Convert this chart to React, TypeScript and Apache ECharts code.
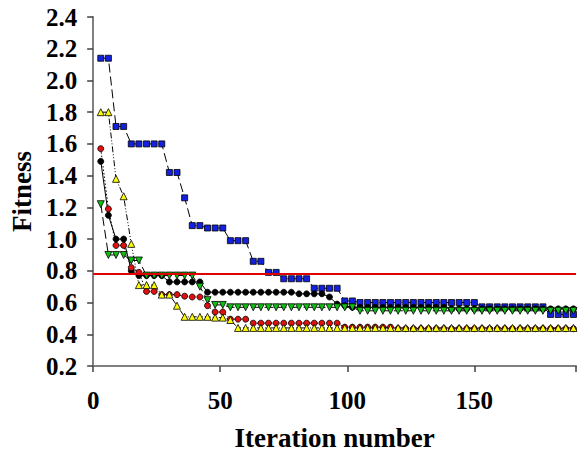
import React, { useEffect, useRef } from "react";
import * as echarts from "echarts";

const iterations: number[] = [];
for (let i = 3; i <= 189; i += 3) iterations.push(i);

const blueValues = [
  2.14, 2.14, 1.71, 1.71, 1.6, 1.6, 1.6, 1.6, 1.6, 1.42, 1.42, 1.26, 1.085, 1.085, 1.07, 1.07, 1.07,
  0.99, 0.99, 0.99, 0.86, 0.86, 0.79, 0.79, 0.75, 0.75, 0.75, 0.75, 0.69, 0.69, 0.69, 0.69, 0.61, 0.61,
  0.6, 0.6, 0.6, 0.6, 0.6, 0.6, 0.6, 0.6, 0.6, 0.6, 0.6, 0.6, 0.6, 0.6, 0.6, 0.6,
  0.573, 0.573, 0.573, 0.573, 0.573, 0.573, 0.573, 0.573, 0.573,
  0.525, 0.525, 0.525, 0.525,
];

const blackValues = [
  1.49, 1.15, 1.0, 1.0, 0.8, 0.77, 0.77, 0.77, 0.77, 0.73, 0.73, 0.73, 0.73, 0.73,
  0.665, 0.665, 0.665, 0.665, 0.665, 0.665, 0.665, 0.665, 0.665, 0.665, 0.665, 0.665,
  0.655, 0.655, 0.655, 0.655, 0.635, 0.59, 0.58,
  0.57, 0.57, 0.57, 0.57, 0.57, 0.57, 0.57, 0.57, 0.57, 0.57, 0.57, 0.57, 0.57,
  0.56, 0.56, 0.56, 0.56, 0.56, 0.56, 0.56, 0.56, 0.56, 0.56, 0.56, 0.56, 0.56, 0.56, 0.56, 0.56, 0.56,
];

const greenValues = [
  1.22, 0.9, 0.9, 0.9, 0.865, 0.865, 0.77, 0.77, 0.77, 0.77, 0.77, 0.77, 0.77,
  0.7, 0.615, 0.585, 0.585,
  0.57, 0.57, 0.57, 0.57, 0.57, 0.57, 0.57, 0.57, 0.57, 0.57, 0.57, 0.57, 0.57, 0.57, 0.57, 0.57, 0.57,
  0.548, 0.548, 0.548, 0.548, 0.548, 0.548, 0.548, 0.548, 0.548, 0.548, 0.548, 0.548, 0.548, 0.548,
  0.548, 0.548, 0.548, 0.548, 0.548, 0.548, 0.548, 0.548, 0.548, 0.548, 0.548, 0.548, 0.548, 0.548, 0.548,
];

const redValues = [
  1.57, 1.19, 0.96, 0.96, 0.82, 0.79, 0.67, 0.67, 0.65, 0.65, 0.65, 0.64, 0.635, 0.635,
  0.58, 0.54, 0.54, 0.495, 0.495, 0.495,
  0.47, 0.47, 0.47, 0.47, 0.47, 0.47, 0.47, 0.47, 0.47, 0.47, 0.47, 0.47,
  0.445, 0.445, 0.445, 0.445, 0.445, 0.445, 0.445,
  0.435, 0.435, 0.435, 0.435, 0.435, 0.435, 0.435, 0.435, 0.435, 0.435, 0.435, 0.435,
  0.435, 0.435, 0.435, 0.435, 0.435, 0.435, 0.435, 0.435, 0.435, 0.435, 0.435, 0.435,
];

const yellowValues = [
  1.8, 1.8, 1.38, 1.27, 0.97, 0.71, 0.71, 0.71, 0.65, 0.65, 0.58, 0.51, 0.51, 0.51, 0.51,
  0.505, 0.505, 0.49,
  0.44, 0.44, 0.44, 0.44, 0.44, 0.44, 0.44, 0.44, 0.44, 0.44, 0.44, 0.44, 0.44, 0.44, 0.44,
  0.44, 0.44, 0.44, 0.44, 0.44, 0.44, 0.44, 0.44, 0.44, 0.44, 0.44, 0.44, 0.44, 0.44, 0.44,
  0.44, 0.44, 0.44, 0.44, 0.44, 0.44, 0.44, 0.44, 0.44, 0.44, 0.44, 0.44, 0.44, 0.44, 0.44,
];

const thresholdValue = 0.78;
const xTicks = [0, 50, 100, 150];
const yMin = 0.2;
const yMax = 2.4;

const FONT = "Liberation Serif";

function pairs(vals: number[]) {
  return vals.map((v, k) => [iterations[k], v]);
}

export default function App() {
  const ref = useRef<HTMLDivElement>(null);
  useEffect(() => {
    if (!ref.current) return;
    const chart = echarts.init(ref.current, null, { renderer: "svg" });
    const mk = (
      name: string,
      vals: number[],
      symbol: string,
      size: number,
      fill: string,
      dash: any,
      rotate = 0
    ) => ({
      name,
      type: "line",
      data: pairs(vals),
      symbol,
      symbolSize: size,
      symbolRotate: rotate,
      showAllSymbol: true,
      lineStyle: { color: "#000", width: 1, type: dash },
      itemStyle: { color: fill, borderColor: "#000", borderWidth: 0.8 },
      emphasis: { disabled: true },
    });
    const labelStyle = {
      fontFamily: FONT,
      fontWeight: "bold",
      fontSize: 25,
      color: "#000",
    };
    chart.setOption({
      animation: false,
      textStyle: { fontFamily: FONT },
      grid: { left: 93, right: 0, top: 17, bottom: 87 },
      xAxis: {
        type: "value",
        min: 0,
        max: 190,
        interval: 50,
        name: "Iteration number",
        nameLocation: "middle",
        nameGap: 58,
        nameTextStyle: { fontFamily: FONT, fontWeight: "bold", fontSize: 27, color: "#000" },
        axisLine: { show: true, lineStyle: { color: "#808080", width: 2 } },
        axisTick: { show: true, length: 6, lineStyle: { color: "#404040", width: 1.5 } },
        splitLine: { show: false },
        axisLabel: {
          ...labelStyle,
          margin: 22,
          formatter: (v: number) => (xTicks.includes(v) ? String(v) : ""),
        },
      },
      yAxis: {
        type: "value",
        min: yMin,
        max: yMax,
        interval: 0.2,
        name: "Fitness",
        nameLocation: "middle",
        nameGap: 48,
        nameTextStyle: { fontFamily: FONT, fontWeight: "bold", fontSize: 27, color: "#000" },
        axisLine: { show: true, lineStyle: { color: "#808080", width: 2 } },
        axisTick: { show: true, length: 6, lineStyle: { color: "#404040", width: 1.5 } },
        splitLine: { show: false },
        axisLabel: {
          ...labelStyle,
          margin: 16,
          formatter: (v: number) => v.toFixed(1),
        },
      },
      series: [
        {
          ...mk("blue", blueValues, "rect", 6, "#1420e0", [9, 4]),
          markLine: {
            silent: true,
            symbol: "none",
            label: { show: false },
            lineStyle: { color: "#e00000", width: 2, type: "solid" },
            data: [{ yAxis: thresholdValue }],
          },
        },
        mk("black", blackValues, "circle", 6, "#000", "solid"),
        mk("green", greenValues, "triangle", 7, "#10c010", [9, 4], 180),
        mk("red", redValues, "circle", 6, "#e01010", [1.5, 2]),
        mk("yellow", yellowValues, "triangle", 7, "#ffff00", [6, 2, 1, 2, 1, 2]),
      ],
    });
    return () => chart.dispose();
  }, []);
  return (
    <div
      ref={ref}
      style={{ position: "fixed", left: 0, top: 0, width: 579, height: 456, background: "#fff" }}
    />
  );
}
